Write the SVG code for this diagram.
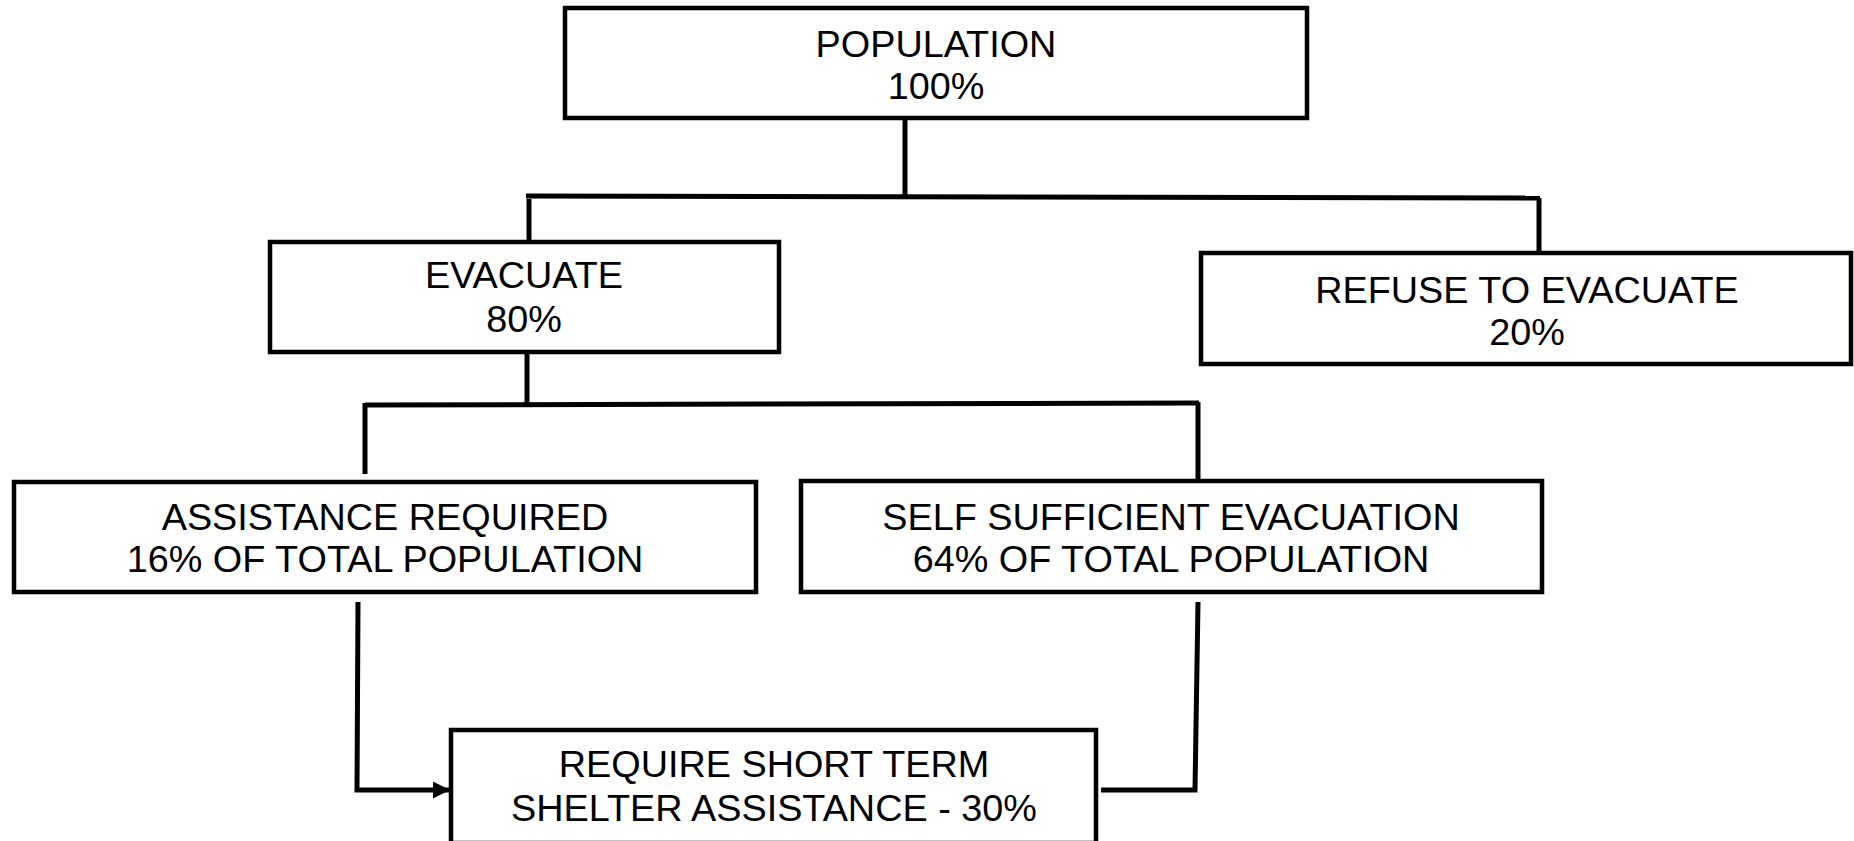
<svg xmlns="http://www.w3.org/2000/svg" width="1854" height="841" viewBox="0 0 1854 841">
<style>
.box{fill:#fff;stroke:#000;stroke-width:4.5}
.t{font-family:"Liberation Sans",Arial,sans-serif;font-size:37.8px;fill:#000;text-anchor:middle}
.c{fill:none;stroke:#000;stroke-width:5}
</style>
<defs>
<marker id="ah" viewBox="0 0 10 10" refX="10" refY="5" markerWidth="3.4" markerHeight="3.4" orient="auto" markerUnits="strokeWidth">
<path d="M0,0 L10,5 L0,10 z" fill="#000"/>
</marker>
</defs>
<rect width="1854" height="841" fill="#fff"/>
<g id="connectors">
<path class="c" d="M905,118 V197"/>
<path class="c" d="M526,196 L1540,198"/>
<path class="c" d="M529,199 V242"/>
<path class="c" d="M1539,198 V252"/>
<path class="c" d="M527,352 V404"/>
<path class="c" d="M365,405 L1199,403"/>
<path class="c" d="M365,403 V474"/>
<path class="c" d="M1198,402 V479"/>
<path class="c" d="M358,602 L357,790 H450" marker-end="url(#ah)"/>
<path class="c" d="M1198,602 L1195,790 H1101"/>
</g>
<g id="n-population">
<rect class="box" x="565" y="8" width="742" height="110"/>
<text class="t" x="936" y="57">POPULATION</text>
<text class="t" x="936" y="99">100%</text>
</g>
<g id="n-evacuate">
<rect class="box" x="270" y="242" width="509" height="110"/>
<text class="t" x="524" y="288">EVACUATE</text>
<text class="t" x="524" y="332">80%</text>
</g>
<g id="n-refuse">
<rect class="box" x="1201" y="253" width="650" height="111"/>
<text class="t" x="1527" y="303">REFUSE TO EVACUATE</text>
<text class="t" x="1527" y="345">20%</text>
</g>
<g id="n-assistance">
<rect class="box" x="14" y="482" width="742" height="110"/>
<text class="t" x="385" y="530">ASSISTANCE REQUIRED</text>
<text class="t" x="385" y="572">16% OF TOTAL POPULATION</text>
</g>
<g id="n-self">
<rect class="box" x="801" y="481" width="741" height="111"/>
<text class="t" x="1171" y="530">SELF SUFFICIENT EVACUATION</text>
<text class="t" x="1171" y="572">64% OF TOTAL POPULATION</text>
</g>
<g id="n-shelter">
<rect class="box" x="451" y="730" width="645" height="113"/>
<text class="t" x="774" y="777">REQUIRE SHORT TERM</text>
<text class="t" x="774" y="821">SHELTER ASSISTANCE - 30%</text>
</g>
</svg>
